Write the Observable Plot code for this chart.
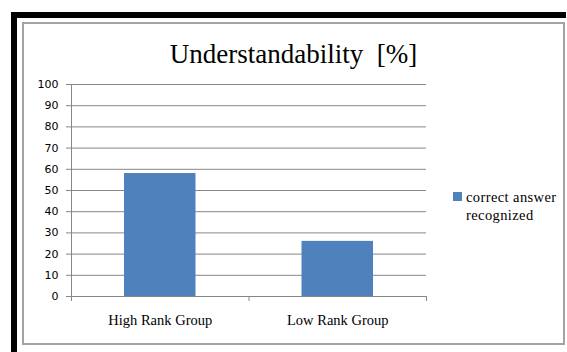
<!DOCTYPE html>
<html>
<head>
<meta charset="utf-8">
<script src="https://cdn.jsdelivr.net/npm/d3@7"></script>
<script src="https://cdn.jsdelivr.net/npm/@observablehq/plot@0.6"></script>
<style>
  html, body { margin: 0; padding: 0; background: #fff; }
  #wrap { position: relative; width: 567px; height: 352px; overflow: hidden; background: #fff; }
  .blk { position: absolute; background: #000; }
  #panel { position: absolute; left: 22px; top: 22px; width: 539px; height: 319px; border: 2px solid #a3a3a3; }
  #title { position: absolute; left: 22px; width: 543px; top: 41px; text-align: center;
           font-family: "Liberation Serif", "Times New Roman", serif; font-size: 27px; line-height: 27px;
           white-space: pre; color: #000; }
  #legend { position: absolute; left: 453px; top: 187.6px; font-family: "Liberation Serif", "Times New Roman", serif;
            font-size: 14.5px; line-height: 18.5px; letter-spacing: 0.4px; color: #000; }
  #legend .sw { position: absolute; left: 0; top: 4.5px; width: 8.5px; height: 8.5px; }
  #legend .txt { position: absolute; left: 13px; top: 0; width: 100px; font-family: "Liberation Serif", serif; }
  #chart { position: absolute; left: 0; top: 0; }
</style>
</head>
<body>
<div id="wrap">
  <div id="panel"></div>
  <div class="blk" style="left:11px;top:12px;width:555px;height:6px;"></div>
  <div class="blk" style="left:11px;top:12px;width:6px;height:340px;"></div>
  <div id="title"></div>
  <div id="chart"></div>
  <div id="legend"><div class="sw"></div><div class="txt"></div></div>
</div>
<script>
// ---- data ----
const categories = ["High Rank Group", "Low Rank Group"];
const values = [58, 26];
const seriesName = "correct answer recognized";
const yTicks = [0, 10, 20, 30, 40, 50, 60, 70, 80, 90, 100];
const titleText = "Understandability  [%]";

const barColor = "#4f81bd";
const gridColor = "#878787";

const rows = categories.map((c, i) => ({category: c, index: i, value: values[i]}));
const bounds = d3.range(categories.length + 1);
const centers = categories.map((c, i) => i + 0.5);

document.getElementById("title").textContent = titleText;
document.querySelector("#legend .txt").textContent = seriesName;
document.querySelector("#legend .sw").style.background = barColor;

const chart = Plot.plot({
  width: 567,
  height: 352,
  marginLeft: 71,
  marginRight: 141,
  marginTop: 84,
  marginBottom: 56,
  style: {background: "transparent", overflow: "visible"},
  x: {domain: [0, categories.length], axis: null, label: null},
  y: {domain: [0, 100], axis: null, label: null},
  marks: [
    Plot.ruleY(yTicks, {stroke: gridColor, strokeWidth: 1}),
    Plot.ruleX([0], {stroke: gridColor, strokeWidth: 1}),
    Plot.rectY(rows, {x1: "index", x2: d => d.index + 1, y: "value", fill: barColor, insetLeft: 53, insetRight: 53}),
    Plot.axisY({ticks: yTicks, tickSize: 5, tickPadding: 8, stroke: gridColor, fill: "#000", label: null,
                fontFamily: "DejaVu Sans", fontSize: 11, tickFormat: d => String(d)}),
    Plot.axisX({ticks: bounds, tickSize: 5, stroke: gridColor, label: null, tickFormat: () => ""}),
    Plot.axisX({ticks: centers, tickSize: 0, tickPadding: 18, fill: "#000", label: null,
                fontFamily: "Liberation Serif", fontSize: 14.5,
                tickFormat: d => categories[Math.floor(d)]})
  ]
});
document.getElementById("chart").appendChild(chart);
</script>
</body>
</html>
